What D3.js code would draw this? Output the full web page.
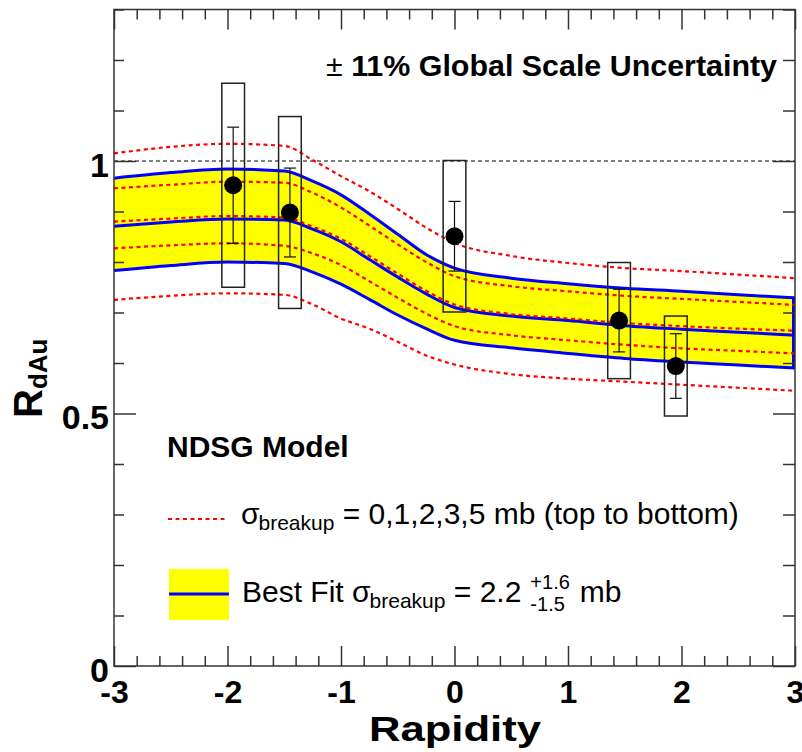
<!DOCTYPE html>
<html><head><meta charset="utf-8">
<script src="https://cdn.jsdelivr.net/npm/d3@7"></script>
<style>
body{margin:0;background:#fff;}
svg{display:block;font-family:"Liberation Sans",Arial,Helvetica,sans-serif;}
</style></head>
<body><svg id="c" width="802" height="752"></svg>
<script>
// ---- data ----
const rapidity      = [-3,-2.5,-2,-1.5,-1.25,-1,-0.75,-0.5,-0.25,0,0.5,1,1.5,2,2.5,3];
const bestFitUpper  = [0.966,0.977,0.984,0.980,0.960,0.933,0.895,0.855,0.815,0.788,0.768,0.757,0.748,0.742,0.735,0.729];
const bestFit       = [0.871,0.879,0.885,0.883,0.865,0.840,0.805,0.770,0.737,0.710,0.693,0.684,0.674,0.667,0.661,0.655];
const bestFitLower  = [0.783,0.793,0.800,0.797,0.780,0.756,0.726,0.695,0.668,0.645,0.630,0.619,0.609,0.602,0.596,0.590];
const sigma0 = [1.015,1.028,1.034,1.030,1.002,0.970,0.940,0.905,0.868,0.838,0.812,0.798,0.788,0.782,0.775,0.768];
const sigma1 = [0.946,0.953,0.959,0.957,0.937,0.908,0.872,0.835,0.800,0.772,0.752,0.742,0.733,0.727,0.721,0.715];
const sigma2 = [0.880,0.886,0.891,0.888,0.870,0.846,0.812,0.777,0.743,0.716,0.697,0.688,0.679,0.673,0.668,0.664];
const sigma3 = [0.827,0.833,0.837,0.832,0.817,0.794,0.762,0.729,0.698,0.673,0.655,0.645,0.636,0.629,0.624,0.619];
const sigma5 = [0.725,0.733,0.738,0.735,0.716,0.688,0.668,0.642,0.615,0.597,0.578,0.569,0.563,0.557,0.551,0.545];

const pointRap  = [-1.95,-1.45,0.0,1.45,1.95];
const pointR    = [0.952,0.898,0.851,0.684,0.594];
const statErr   = [0.115,0.088,0.069,0.062,0.064];
const sysErr    = [0.202,0.190,0.150,0.115,0.099];
const boxHalfW  = 0.1;

const xTickLabels = [-3,-2,-1,0,1,2,3];
const yTickLabels = [0,0.5,1];

// ---- layout ----
const svg = d3.select("#c");
const L=114, R=795, T=9.5, B=666;
const x = d3.scaleLinear().domain([-3,3]).range([L,R]);
const y = d3.scaleLinear().domain([0,1.3]).range([B,T]);

const g = svg.append("g");

// band
const band = rapidity.map((r,i)=>({r, u:bestFitUpper[i], l:bestFitLower[i]}));
g.append("path").datum(band)
  .attr("d", d3.area().x(d=>x(d.r)).y0(d=>y(d.l)).y1(d=>y(d.u)).curve(d3.curveMonotoneX))
  .attr("fill","#ffff00");

// reference dashed line at 1
g.append("line").attr("x1",x(-3)).attr("x2",x(3)).attr("y1",y(1)).attr("y2",y(1))
  .attr("stroke","#000").attr("stroke-width",1).attr("stroke-dasharray","4,3");

const line = d3.line().x(d=>x(d[0])).y(d=>y(d[1])).curve(d3.curveMonotoneX);
const mk = arr => rapidity.map((r,i)=>[r,arr[i]]);

// blue lines
[bestFitUpper,bestFit,bestFitLower].forEach(arr=>{
  g.append("path").datum(mk(arr)).attr("d",line)
   .attr("fill","none").attr("stroke","#0000ff").attr("stroke-width",3);
});
// right edge of band
g.append("line").attr("x1",x(3)-1.5).attr("x2",x(3)-1.5)
  .attr("y1",y(bestFitUpper[bestFitUpper.length-1])).attr("y2",y(bestFitLower[bestFitLower.length-1]))
  .attr("stroke","#0000ff").attr("stroke-width",3);

// red dotted
[sigma0,sigma1,sigma2,sigma3,sigma5].forEach(arr=>{
  g.append("path").datum(mk(arr)).attr("d",line)
   .attr("fill","none").attr("stroke","#ff0000").attr("stroke-width",2.2).attr("stroke-dasharray","4,3.5");
});

// data points
const pts = pointRap.map((r,i)=>({r, v:pointR[i], s:statErr[i], e:sysErr[i]}));
g.selectAll(".box").data(pts).enter().append("rect")
  .attr("x",d=>x(d.r-boxHalfW)).attr("width",d=>x(d.r+boxHalfW)-x(d.r-boxHalfW))
  .attr("y",d=>y(d.v+d.e)).attr("height",d=>y(d.v-d.e)-y(d.v+d.e))
  .attr("fill","none").attr("stroke","#222").attr("stroke-width",1.5);
g.selectAll(".eb").data(pts).enter().append("line")
  .attr("x1",d=>x(d.r)).attr("x2",d=>x(d.r)).attr("y1",d=>y(d.v+d.s)).attr("y2",d=>y(d.v-d.s))
  .attr("stroke","#111").attr("stroke-width",1.2);
pts.forEach(d=>{
  [d.v+d.s,d.v-d.s].forEach(v=>{
    g.append("line").attr("x1",x(d.r)-6).attr("x2",x(d.r)+6).attr("y1",y(v)).attr("y2",y(v))
     .attr("stroke","#111").attr("stroke-width",1.2);
  });
});
g.selectAll(".pt").data(pts).enter().append("circle")
  .attr("cx",d=>x(d.r)).attr("cy",d=>y(d.v)).attr("r",9).attr("fill","#000");

// ---- axes ----
const xMajor = d3.range(-3,3.001,1);
const xMinor = d3.range(-3,3.001,0.2).map(v=>+v.toFixed(2)).filter(v=>Math.abs(v-Math.round(v))>1e-6);
const yMajor = [0,0.5,1];
const yMinor = d3.range(0,1.301,0.1).map(v=>+v.toFixed(2)).filter(v=>!yMajor.includes(v));

const axStyle = sel => { sel.select(".domain").remove(); sel.selectAll("line").attr("stroke","#333").attr("stroke-width",1.5); };

// bottom
svg.append("g").attr("transform",`translate(0,${B})`)
  .call(d3.axisBottom(x).tickValues(xMinor).tickSizeInner(-10).tickSizeOuter(0).tickFormat(""))
  .call(axStyle);
const bx = svg.append("g").attr("transform",`translate(0,${B})`)
  .call(d3.axisBottom(x).tickValues(xTickLabels).tickSizeInner(-20).tickSizeOuter(0).tickPadding(14).tickFormat(d3.format("d")))
  .call(axStyle);
bx.selectAll("text").attr("font-size",32).attr("font-weight","bold").attr("fill","#000")
  .attr("font-family","'Liberation Sans',Arial,sans-serif").text(d=>d<0?"-"+Math.abs(d):d);
// top
svg.append("g").attr("transform",`translate(0,${T})`)
  .call(d3.axisTop(x).tickValues(xMinor).tickSizeInner(-10).tickSizeOuter(0).tickFormat("")).call(axStyle);
svg.append("g").attr("transform",`translate(0,${T})`)
  .call(d3.axisTop(x).tickValues(xMajor).tickSizeInner(-20).tickSizeOuter(0).tickFormat("")).call(axStyle);
// left
svg.append("g").attr("transform",`translate(${L},0)`)
  .call(d3.axisLeft(y).tickValues(yMinor).tickSizeInner(-10).tickSizeOuter(0).tickFormat("")).call(axStyle);
const ly = svg.append("g").attr("transform",`translate(${L},0)`)
  .call(d3.axisLeft(y).tickValues(yTickLabels).tickSizeInner(-22).tickSizeOuter(0).tickPadding(5).tickFormat(d=>String(d)))
  .call(axStyle);
ly.selectAll("text").attr("font-size",34).attr("font-weight","bold").attr("fill","#000")
  .attr("font-family","'Liberation Sans',Arial,sans-serif").attr("dy","0.45em");
// right
svg.append("g").attr("transform",`translate(${R},0)`)
  .call(d3.axisRight(y).tickValues(yMinor).tickSizeInner(-12).tickSizeOuter(0).tickFormat("")).call(axStyle);
svg.append("g").attr("transform",`translate(${R},0)`)
  .call(d3.axisRight(y).tickValues(yMajor).tickSizeInner(-22).tickSizeOuter(0).tickFormat("")).call(axStyle);

// frame
svg.append("rect").attr("x",L).attr("y",T).attr("width",R-L).attr("height",B-T)
  .attr("fill","none").attr("stroke","#333").attr("stroke-width",1.5);

// axis titles
svg.append("text").attr("x",369).attr("y",741)
  .attr("font-size",35).attr("font-weight","bold")
  .attr("textLength",172).attr("lengthAdjust","spacingAndGlyphs").text("Rapidity");
const yt = svg.append("text").attr("transform","translate(42,418) rotate(-90)")
  .attr("font-weight","bold");
yt.append("tspan").attr("font-size",40).text("R");
yt.append("tspan").attr("font-size",26).attr("dy",5).text("dAu");

// annotations
const gs = svg.append("text").attr("x",326).attr("y",76).attr("font-size",30)
  .attr("textLength",451).attr("lengthAdjust","spacingAndGlyphs");
gs.append("tspan").attr("font-weight","normal").text("±");
gs.append("tspan").attr("font-weight","bold").text(" 11% Global Scale Uncertainty");

svg.append("text").attr("x",167).attr("y",457).attr("font-size",30).attr("font-weight","bold").text("NDSG Model");

// legend
svg.append("line").attr("x1",168).attr("x2",228).attr("y1",519).attr("y2",519)
  .attr("stroke","#ff0000").attr("stroke-width",2.2).attr("stroke-dasharray","4,3.5");
const t1 = svg.append("text").attr("x",241).attr("y",524).attr("font-size",30);
t1.append("tspan").text("σ");
t1.append("tspan").attr("font-size",21).attr("dy",6).attr("dx",-1).text("breakup");
t1.append("tspan").attr("dy",-6).text(" = 0,1,2,3,5 mb (top to bottom)");

svg.append("rect").attr("x",169).attr("y",569).attr("width",60).attr("height",51).attr("fill","#ffff00");
svg.append("line").attr("x1",169).attr("x2",229).attr("y1",594).attr("y2",594)
  .attr("stroke","#0000ff").attr("stroke-width",3);
const t2 = svg.append("text").attr("x",242).attr("y",602).attr("font-size",30);
t2.append("tspan").text("Best Fit σ");
t2.append("tspan").attr("font-size",21).attr("dy",6).attr("dx",-1).text("breakup");
t2.append("tspan").attr("dy",-6).text(" = 2.2");
const t2end = 242 + t2.node().getComputedTextLength();
const supX = t2end + 8;
const sup = svg.append("text").attr("x",supX).attr("y",589).attr("font-size",20).text("+1.6");
svg.append("text").attr("x",supX).attr("y",611).attr("font-size",20).text("-1.5");
const supEnd = supX + sup.node().getComputedTextLength();
svg.append("text").attr("x",supEnd+10).attr("y",602).attr("font-size",30).text("mb");
</script></body></html>
